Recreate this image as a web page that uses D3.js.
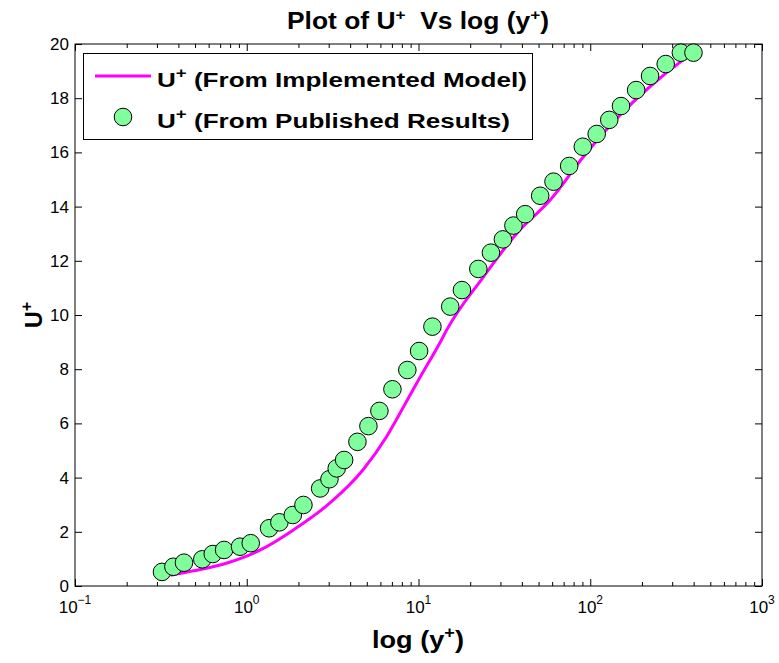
<!DOCTYPE html>
<html>
<head>
<meta charset="utf-8">
<script src="https://cdn.jsdelivr.net/npm/d3@7"></script>
<style>
  html, body { margin: 0; padding: 0; background: #fff; }
  svg { display: block; font-family: "Liberation Sans", Arial, Helvetica, sans-serif; }
</style>
</head>
<body>
<svg id="chart" width="779" height="663"></svg>
<script>
// ---- data ----
const modelYplus = [0.36, 0.49, 0.76, 1.2, 1.87, 3.1, 4.77, 6.5, 8.2, 10, 13.6, 14.6, 23.9, 37.3, 58.4, 91.2, 150, 250, 400];
const modelUplus = [0.40, 0.56, 0.84, 1.33, 2.07, 3.10, 4.30, 5.5, 6.62, 7.6, 9.08, 9.45, 11.41, 13.01, 14.24, 15.84, 17.4, 18.7, 19.7];

const pubYplus = [0.321, 0.374, 0.431, 0.551, 0.634, 0.738, 0.914, 1.055, 1.349, 1.549, 1.854, 2.138, 2.675, 3.03, 3.34, 3.69, 4.41, 5.11, 5.92, 7.05, 8.61, 10.08, 12.05, 15.3, 17.9, 22.3, 26.4, 31.0, 35.7, 41.8, 51.1, 61.1, 75.4, 90.5, 109, 129, 151, 185, 223, 275, 337, 399];
const pubUplus = [0.52, 0.71, 0.86, 0.985, 1.18, 1.33, 1.45, 1.58, 2.13, 2.35, 2.62, 2.99, 3.60, 3.94, 4.34, 4.65, 5.32, 5.90, 6.46, 7.26, 7.97, 8.67, 9.57, 10.31, 10.92, 11.70, 12.30, 12.79, 13.30, 13.72, 14.40, 14.92, 15.50, 16.21, 16.68, 17.20, 17.71, 18.30, 18.82, 19.26, 19.68, 19.68];

const xMajorTicks = [0.1, 1, 10, 100, 1000];
const xTickExponents = ["\u22121", "0", "1", "2", "3"];
const yTicks = [0, 2, 4, 6, 8, 10, 12, 14, 16, 18, 20];
const legendLabels = ["(From Implemented Model)", "(From Published Results)"];

// ---- layout ----
const L = 75, R = 762, T = 44, B = 586;
const svg = d3.select("#chart");
const x = d3.scaleLog().domain([0.1, 1000]).range([L, R]);
const y = d3.scaleLinear().domain([0, 20]).range([B, T]);

const minorTicks = [];
for (let e = -1; e < 3; e++) for (let k = 2; k <= 9; k++) minorTicks.push(k * Math.pow(10, e));

// text placed inside a group that is horizontally stretched to a target width
function stretchedText(px, py, target, anchor) {
  const g = svg.append("g").attr("transform", `translate(${px},${py})`);
  const t = g.append("text").attr("x", 0).attr("y", 0).attr("text-anchor", anchor);
  return { g, t, fit() {
    const w = t.node().getComputedTextLength();
    g.attr("transform", `translate(${px},${py}) scale(${(target / w).toFixed(4)},1)`);
  } };
}

// frame
svg.append("rect").attr("x", L).attr("y", T).attr("width", R - L).attr("height", B - T)
  .attr("fill", "none").attr("stroke", "#000").attr("stroke-width", 1);

function styleAxis(g) {
  g.select(".domain").remove();
  g.selectAll("line").attr("stroke", "#000").attr("stroke-width", 1);
  g.selectAll("text").remove();
}
svg.append("g").attr("transform", `translate(0,${B})`).call(d3.axisBottom(x).tickValues(xMajorTicks).tickSize(-7)).call(styleAxis);
svg.append("g").attr("transform", `translate(0,${B})`).call(d3.axisBottom(x).tickValues(minorTicks).tickSize(-4)).call(styleAxis);
svg.append("g").attr("transform", `translate(0,${T})`).call(d3.axisTop(x).tickValues(xMajorTicks).tickSize(-7)).call(styleAxis);
svg.append("g").attr("transform", `translate(0,${T})`).call(d3.axisTop(x).tickValues(minorTicks).tickSize(-4)).call(styleAxis);
svg.append("g").attr("transform", `translate(${L},0)`).call(d3.axisLeft(y).tickValues(yTicks).tickSize(-7)).call(styleAxis);
svg.append("g").attr("transform", `translate(${R},0)`).call(d3.axisRight(y).tickValues(yTicks).tickSize(-7)).call(styleAxis);

// y tick labels
svg.append("g").selectAll("text").data(yTicks).join("text")
  .attr("x", L - 6).attr("y", d => y(d) + 6)
  .attr("text-anchor", "end").attr("font-size", 17).text(d => d);

// x tick labels
const xl = svg.append("g").selectAll("text").data(xMajorTicks).join("text")
  .attr("x", d => x(d)).attr("y", 613).attr("text-anchor", "middle").attr("font-size", 17);
xl.append("tspan").text("10");
xl.append("tspan").attr("dy", -9).attr("font-size", 12).text((d, i) => xTickExponents[i]);

// model line
const line = d3.line().x((d, i) => x(modelYplus[i])).y(d => y(d)).curve(d3.curveMonotoneX);
svg.append("path").datum(modelUplus).attr("d", line)
  .attr("fill", "none").attr("stroke", "#ff00ff").attr("stroke-width", 3).attr("stroke-linejoin", "round");

// published points
svg.append("g").selectAll("circle").data(pubUplus).join("circle")
  .attr("cx", (d, i) => x(pubYplus[i])).attr("cy", d => y(d)).attr("r", 8.8)
  .attr("fill", "#80fe9c").attr("stroke", "#000").attr("stroke-width", 1);

// title
const ti = stretchedText(418, 29, 262, "middle");
ti.t.attr("font-size", 23).attr("font-weight", "bold");
ti.t.append("tspan").text("Plot of U");
ti.t.append("tspan").attr("dy", -9).attr("font-size", 15).text("+");
ti.t.append("tspan").attr("dy", 9).text("\u00a0 Vs log (y");
ti.t.append("tspan").attr("dy", -9).attr("font-size", 15).text("+");
ti.t.append("tspan").attr("dy", 9).text(")");
ti.fit();

// x label
const xa = stretchedText(418, 648, 92, "middle");
xa.t.attr("font-size", 24).attr("font-weight", "bold");
xa.t.append("tspan").text("log (y");
xa.t.append("tspan").attr("dy", -10).attr("font-size", 16).text("+");
xa.t.append("tspan").attr("dy", 10).text(")");
xa.fit();

// y label
const ylab = svg.append("text").attr("transform", "translate(42,315) rotate(-90)").attr("text-anchor", "middle")
  .attr("font-size", 23).attr("font-weight", "bold");
ylab.append("tspan").text("U");
ylab.append("tspan").attr("dy", -10).attr("font-size", 16).text("+");

// legend
const lg = svg.append("g");
lg.append("rect").attr("x", 83.5).attr("y", 53.5).attr("width", 449).attr("height", 86)
  .attr("fill", "#fff").attr("stroke", "#000").attr("stroke-width", 1);
lg.append("line").attr("x1", 95).attr("x2", 151).attr("y1", 76).attr("y2", 76)
  .attr("stroke", "#ff00ff").attr("stroke-width", 3);
lg.append("circle").attr("cx", 123).attr("cy", 117).attr("r", 8.8)
  .attr("fill", "#80fe9c").attr("stroke", "#000").attr("stroke-width", 1);
const legendWidths = [370, 353];
legendLabels.forEach((lab, i) => {
  const s = stretchedText(157, 87 + i * 40.5, legendWidths[i], "start");
  s.t.attr("font-size", 21).attr("font-weight", "bold");
  s.t.append("tspan").text("U");
  s.t.append("tspan").attr("dy", -9).attr("font-size", 15).text("+");
  s.t.append("tspan").attr("dy", 9).text(" " + lab);
  s.fit();
});
</script>
</body>
</html>
